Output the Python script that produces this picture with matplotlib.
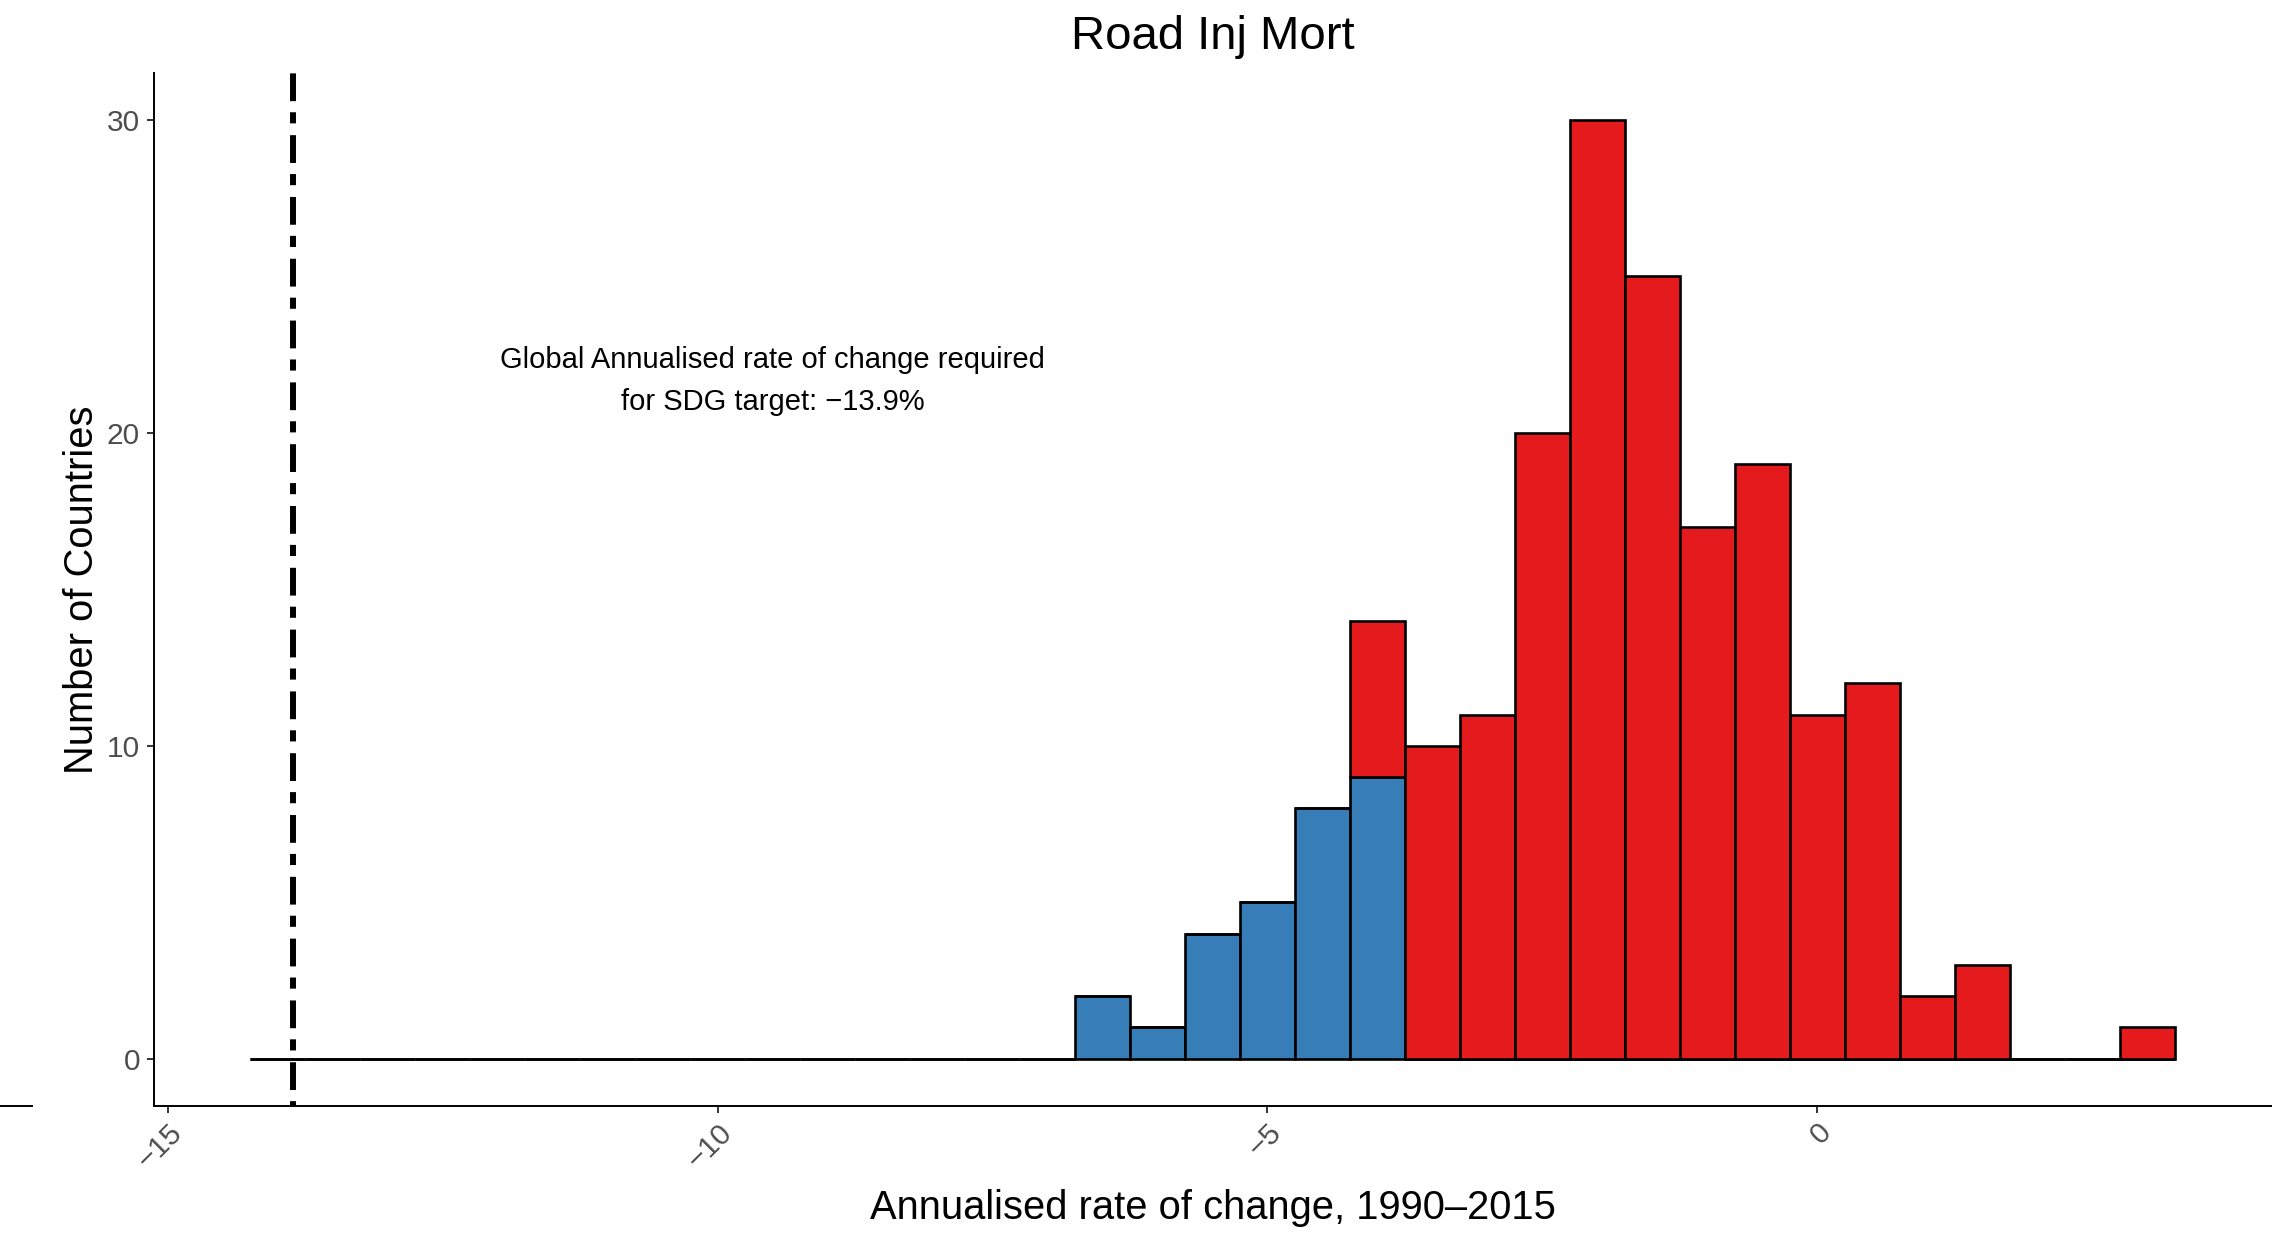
import matplotlib
matplotlib.use("Agg")
import matplotlib.pyplot as plt
from matplotlib.lines import Line2D
import numpy as np

plt.rcParams["font.family"] = ["Liberation Sans", "DejaVu Sans"]
plt.rcParams["lines.scale_dashes"] = False

# histogram bins (width 0.5), centres -14.0 .. 3.0
bin_width = 0.5
bin_centers = np.arange(-14.0, 3.01, bin_width)
# counts per bin, left to right
blue_counts = [0] * 15 + [2, 1, 4, 5, 8, 9] + [0] * 14
red_counts = [0] * 20 + [5, 10, 11, 20, 30, 25, 17, 19, 11, 12, 2, 3, 0, 0, 1]
sdg_target = -13.86
title = "Road Inj Mort"
annotation = "Global Annualised rate of change required\nfor SDG target: \u221213.9%"
blue = "#377EB8"
red = "#E41A1C"

fig = plt.figure(figsize=(22.87, 12.47), dpi=100)
ax = fig.add_axes([0.0673, 0.1133, 0.9257, 0.8282])

ax.bar(bin_centers, blue_counts, width=bin_width, color=blue,
       edgecolor="black", linewidth=1.9, zorder=2)
ax.bar(bin_centers, red_counts, width=bin_width, bottom=blue_counts, color=red,
       edgecolor="black", linewidth=1.9, zorder=2)

ax.axvline(sdg_target, color="black", linewidth=4.3,
           linestyle=(33, (20, 8.5, 8, 8)), zorder=3)

ax.text(-9.5, 21.65, annotation, ha="center", va="center", fontsize=21,
        linespacing=1.62)

ax.set_xlim(-15.125, 4.125)
ax.set_ylim(-1.5, 31.5)
ax.set_xticks([-15, -10, -5, 0])
ax.set_xticklabels(["\u221215", "\u221210", "\u22125", "0"])
ax.set_yticks([0, 10, 20, 30])

for side in ("top", "right"):
    ax.spines[side].set_visible(False)
for side in ("left", "bottom"):
    ax.spines[side].set_linewidth(1.4)

ax.tick_params(axis="both", length=5, width=1.4, color="#333333",
               labelcolor="#4D4D4D", labelsize=21.5)
ax.tick_params(axis="y", pad=5)
ax.tick_params(axis="x", pad=4)
for lab in ax.get_xticklabels():
    lab.set_rotation(45)
    lab.set_ha("right")
    lab.set_va("top")
    lab.set_rotation_mode("anchor")

ax.set_title(title, fontsize=34, pad=17.5)
ax.set_xlabel("Annualised rate of change, 1990\u20132015", fontsize=28.7, labelpad=11)
ax.set_ylabel("Number of Countries", fontsize=28.7, labelpad=4)

# stray axis-line fragment at the far left edge
fig.add_artist(Line2D([0, 32 / 2287], [0.1133, 0.1133], color="black",
                      linewidth=1.4, transform=fig.transFigure))

fig.savefig("out.png", dpi=100)
